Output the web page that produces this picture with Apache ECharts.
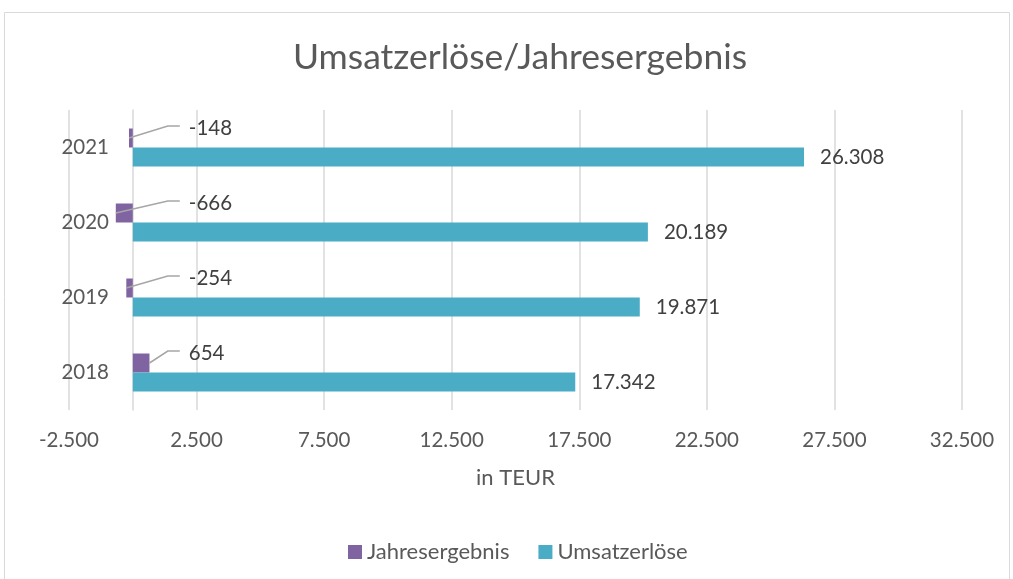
<!DOCTYPE html>
<html>
<head>
<meta charset="utf-8">
<script src="https://cdn.jsdelivr.net/npm/echarts@6/dist/echarts.min.js"></script>
<style>
html,body{margin:0;padding:0;background:#fff;}
#chart{width:1013px;height:579px;}
</style>
</head>
<body>
<div id="chart"></div>
<script>
const categories = ['2018', '2019', '2020', '2021'];
const jahresergebnis = [654, -254, -666, -148];
const umsatzerloese = [17342, 19871, 20189, 26308];
const seriesNames = ['Jahresergebnis', 'Umsatzerlöse'];
const xAxisMin = -2500;
const xAxisMax = 32500;
const xAxisStep = 5000;
const titleText = 'Umsatzerlöse/Jahresergebnis';
const xAxisTitle = 'in TEUR';

function de(n) {
  const s = Math.abs(Math.round(n)).toString().replace(/\B(?=(\d{3})+(?!\d))/g, '.');
  return (n < 0 ? '-' : '') + s;
}

const FONT = 'Lato';
const BAR_W = 19;
const LABEL_DX = 56;
const LABEL_DY = -10;

const chart = echarts.init(document.getElementById('chart'));
chart.setOption({
  animation: false,
  backgroundColor: '#ffffff',
  textStyle: { fontFamily: FONT },
  graphic: [{
    type: 'rect',
    shape: { x: 4.5, y: 12.5, width: 1005, height: 600 },
    style: { fill: 'none', stroke: '#d9d9d9', lineWidth: 1 },
    silent: true, z: -10
  }],
  title: {
    text: titleText,
    left: 288,
    top: 35,
    textStyle: { fontFamily: FONT, fontSize: 35.5, fontWeight: 'normal', color: '#595959' }
  },
  legend: {
    data: seriesNames,
    left: 343,
    top: 536,
    icon: 'rect',
    itemWidth: 14,
    itemHeight: 14,
    itemGap: 29,
    textStyle: { fontFamily: FONT, fontSize: 22, color: '#595959' }
  },
  grid: { left: 69, right: 51, top: 110, bottom: 169, containLabel: false, outerBoundsMode: 'none' },
  xAxis: {
    type: 'value',
    min: xAxisMin,
    max: xAxisMax,
    interval: xAxisStep,
    name: xAxisTitle,
    nameLocation: 'middle',
    nameGap: 57,
    nameTextStyle: { fontFamily: FONT, fontSize: 22, color: '#595959' },
    axisLine: { show: false },
    axisTick: { show: false },
    axisLabel: { fontFamily: FONT, fontSize: 20.5, color: '#595959', margin: 20, formatter: v => de(v) },
    splitLine: { show: true, lineStyle: { color: '#d9d9d9', width: 1.5 } }
  },
  yAxis: {
    type: 'category',
    data: categories,
    axisLine: { show: true, onZero: true, lineStyle: { color: '#d9d9d9', width: 1.5 } },
    axisTick: { show: false },
    axisLabel: { fontFamily: FONT, fontSize: 20.5, color: '#595959', margin: -40 },
    splitLine: { show: false }
  },
  series: [
    {
      name: seriesNames[0],
      type: 'bar',
      data: jahresergebnis,
      barWidth: BAR_W,
      barGap: '0%',
      itemStyle: { color: '#8064a2' },
      label: {
        show: true,
        position: 'right',
        fontFamily: FONT,
        fontSize: 20.5,
        color: '#404040',
        formatter: p => de(p.value)
      },
      labelLayout: function (p) {
        const v = jahresergebnis[p.dataIndex];
        const r = p.rect;
        const left = Math.min(r.x, r.x + r.width);
        const right = Math.max(r.x, r.x + r.width);
        const cy = r.y + r.height / 2;
        const zero = v < 0 ? right : left;
        return { x: zero + LABEL_DX, y: cy + LABEL_DY, align: 'left', verticalAlign: 'middle' };
      }
    },
    {
      name: seriesNames[1],
      type: 'bar',
      data: umsatzerloese,
      barWidth: BAR_W,
      barGap: '0%',
      itemStyle: { color: '#4bacc6' },
      label: {
        show: true,
        position: 'right',
        distance: 16,
        fontFamily: FONT,
        fontSize: 20.5,
        color: '#404040',
        formatter: p => de(p.value)
      }
    },
    {
      name: 'leader',
      type: 'custom',
      silent: true,
      z: 5,
      data: jahresergebnis.map((v, i) => [v, i]),
      encode: { x: 0, y: 1 },
      renderItem: function (params, api) {
        const v = api.value(0);
        const i = api.value(1);
        const zero = api.coord([0, i]);
        const end = api.coord([v, i]);
        const cy = zero[1] - BAR_W / 2;
        const lx = zero[0] + LABEL_DX;
        const ly = cy + LABEL_DY - 2;
        return {
          type: 'polyline',
          shape: { points: [[end[0], cy], [lx - 21, ly], [lx - 9, ly]] },
          style: { fill: null, stroke: '#a6a6a6', lineWidth: 1.5 }
        };
      }
    }
  ]
});
</script>
</body>
</html>
